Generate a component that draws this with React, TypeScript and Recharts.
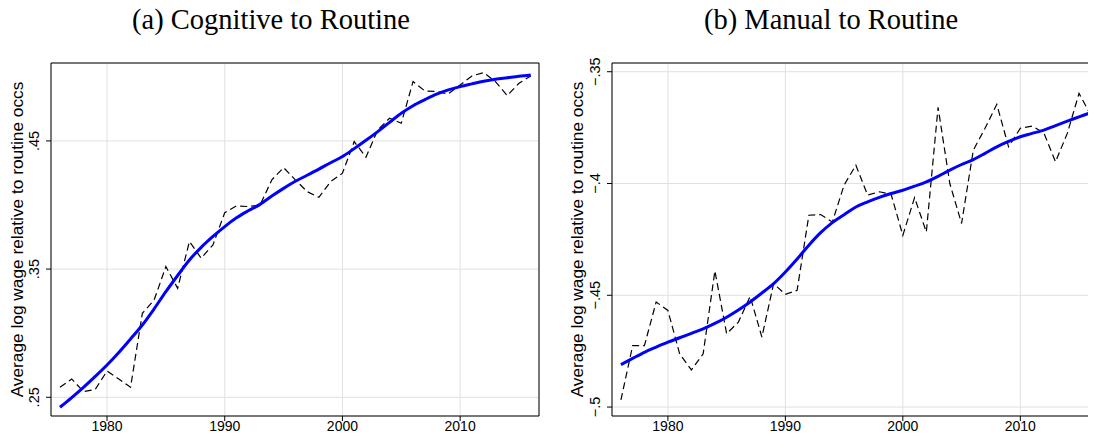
import React from 'react';
import {
  LineChart,
  Line,
  XAxis,
  YAxis,
  CartesianGrid,
  ReferenceArea,
} from 'recharts';

const years = [
  1976, 1977, 1978, 1979, 1980, 1981, 1982, 1983, 1984, 1985, 1986, 1987, 1988, 1989,
  1990, 1991, 1992, 1993, 1994, 1995, 1996, 1997, 1998, 1999, 2000, 2001, 2002, 2003,
  2004, 2005, 2006, 2007, 2008, 2009, 2010, 2011, 2012, 2013, 2014, 2015, 2016,
];

// (a) cognitive relative to routine: annual values and the smoothed trend
const cogActual = [
  0.2578, 0.2643, 0.2544, 0.2562, 0.2705, 0.2643, 0.2578, 0.3155, 0.3259, 0.352, 0.335,
  0.3715, 0.3585, 0.3689, 0.394, 0.3993, 0.3988, 0.4, 0.4196, 0.4292, 0.4196, 0.4105,
  0.406, 0.4183, 0.4248, 0.4495, 0.4373, 0.4586, 0.4677, 0.4638, 0.4963, 0.489, 0.4885,
  0.4867, 0.4937, 0.5007, 0.5033, 0.4963, 0.4854, 0.495, 0.5007,
];
const cogSmooth = [
  0.2422, 0.2498, 0.2578, 0.2663, 0.2752, 0.285, 0.2955, 0.3064, 0.319, 0.3324, 0.345,
  0.3571, 0.367, 0.3755, 0.3832, 0.39, 0.3955, 0.4005, 0.407, 0.413, 0.4185, 0.4232,
  0.428, 0.433, 0.4378, 0.444, 0.4505, 0.4573, 0.4645, 0.4716, 0.4775, 0.4822, 0.4865,
  0.4898, 0.4924, 0.4945, 0.4965, 0.4981, 0.4993, 0.5005, 0.5015,
];

// (b) manual relative to routine
const manActual = [
  -0.4968, -0.4725, -0.4725, -0.453, -0.4568, -0.4762, -0.4834, -0.4762, -0.4391, -0.4672,
  -0.462, -0.4505, -0.4687, -0.4448, -0.4496, -0.4478, -0.4142, -0.4139, -0.4172, -0.4007,
  -0.3918, -0.4052, -0.4037, -0.4048, -0.4232, -0.4063, -0.4217, -0.3659, -0.4, -0.4179,
  -0.3851, -0.3753, -0.3646, -0.3836, -0.3753, -0.3743, -0.3773, -0.3903, -0.3776, -0.3597,
  -0.3694,
];
const manSmooth = [
  -0.481, -0.4782, -0.4755, -0.4732, -0.471, -0.469, -0.467, -0.465, -0.4626, -0.4598,
  -0.4566, -0.453, -0.449, -0.4448, -0.4396, -0.4338, -0.4276, -0.422, -0.4175, -0.414,
  -0.4105, -0.4082, -0.4062, -0.4045, -0.403, -0.4012, -0.3993, -0.3968, -0.394, -0.3915,
  -0.3893, -0.3865, -0.3836, -0.3812, -0.3791, -0.3776, -0.3761, -0.3741, -0.3721,
  -0.3702, -0.3683,
];

const xTicks = [1980, 1990, 2000, 2010];
const cogTicks = [0.25, 0.35, 0.45];
const manTicks = [-0.5, -0.45, -0.4, -0.35];

const xDomain: [number, number] = [1975.24, 2016.7];
const cogDomain: [number, number] = [0.2354, 0.5108];
const manDomain: [number, number] = [-0.504, -0.3461];

const cogData = years.map((year, i) => ({ year, actual: cogActual[i], smooth: cogSmooth[i] }));
const manData = years.map((year, i) => ({ year, actual: manActual[i], smooth: manSmooth[i] }));

const SANS = '"Liberation Sans", Arial, sans-serif';

const fmtTick = (v: number) => {
  const s = Math.abs(v).toString().replace(/^0/, '');
  return v < 0 ? '\u2212' + s : s;
};

const YTick = (props: any) => {
  const { x, y, payload } = props;
  const bx = x - 5;
  return (
    <text
      x={bx}
      y={y}
      transform={`rotate(-90 ${bx} ${y})`}
      textAnchor="middle"
      fontFamily={SANS}
      fontSize={14.5}
      fill="#000"
    >
      {fmtTick(payload.value)}
    </text>
  );
};

const XTick = (props: any) => {
  const { x, y, payload } = props;
  return (
    <text x={x} y={y + 8} textAnchor="middle" fontFamily={SANS} fontSize={14} fill="#000">
      {payload.value}
    </text>
  );
};

const YTitle = (props: any) => {
  const vb = props.viewBox || { x: 0, y: 63, width: 51, height: 353 };
  const bx = vb.x + 23;
  const cy = vb.y + vb.height / 2;
  return (
    <text
      x={bx}
      y={cy}
      transform={`rotate(-90 ${bx} ${cy})`}
      textAnchor="middle"
      fontFamily={SANS}
      fontSize={17.3}
      fill="#000"
    >
      Average log wage relative to routine occs
    </text>
  );
};

type PanelProps = {
  data: { year: number; actual: number; smooth: number }[];
  yTicks: number[];
  yDomain: [number, number];
  yWidth: number;
};

const Panel = ({ data, yTicks, yDomain, yWidth }: PanelProps) => (
  <LineChart width={560} height={441} data={data} margin={{ top: 63, right: 21, bottom: 0, left: 0 }}>
    <CartesianGrid stroke="#e0e0e0" strokeWidth={1} />
    <XAxis
      dataKey="year"
      type="number"
      domain={xDomain}
      ticks={xTicks}
      axisLine={false}
      tickSize={5}
      tickMargin={2}
      height={25}
      allowDataOverflow
      tick={<XTick />}
      tickLine={{ stroke: '#000' }}
    />
    <YAxis
      type="number"
      domain={yDomain}
      ticks={yTicks}
      axisLine={false}
      tickSize={5}
      tickMargin={2}
      width={yWidth}
      allowDataOverflow
      tick={<YTick />}
      tickLine={{ stroke: '#000' }}
      label={<YTitle />}
    />
    <Line
      type="linear"
      dataKey="actual"
      stroke="#000"
      strokeWidth={1.2}
      strokeDasharray="7 4"
      dot={false}
      isAnimationActive={false}
    />
    <Line
      type="monotone"
      dataKey="smooth"
      stroke="#0000ff"
      strokeWidth={3}
      dot={false}
      isAnimationActive={false}
    />
    <ReferenceArea
      x1={xDomain[0]}
      x2={xDomain[1]}
      y1={yDomain[0]}
      y2={yDomain[1]}
      fill="none"
      fillOpacity={0}
      stroke="#000"
      strokeWidth={1}
      ifOverflow="visible"
    />
  </LineChart>
);

const titleStyle: React.CSSProperties = {
  position: 'absolute',
  top: 4,
  fontFamily: '"Liberation Serif", "DejaVu Serif", serif',
  fontSize: 28.5,
  lineHeight: '32px',
  color: '#000',
  textAlign: 'center',
  whiteSpace: 'nowrap',
};

export default function App() {
  return (
    <div
      style={{
        position: 'relative',
        margin: -8,
        width: 1096,
        height: 441,
        overflow: 'hidden',
        background: '#fff',
      }}
    >
      <div style={{ ...titleStyle, left: 0, width: 542 }}>(a) Cognitive to Routine</div>
      <div style={{ ...titleStyle, left: 560, width: 542 }}>(b) Manual to Routine</div>
      <div style={{ position: 'absolute', left: 0, top: 0 }}>
        <Panel data={cogData} yTicks={cogTicks} yDomain={cogDomain} yWidth={51} />
      </div>
      <div style={{ position: 'absolute', left: 560, top: 0 }}>
        <Panel data={manData} yTicks={manTicks} yDomain={manDomain} yWidth={52} />
      </div>
    </div>
  );
}
